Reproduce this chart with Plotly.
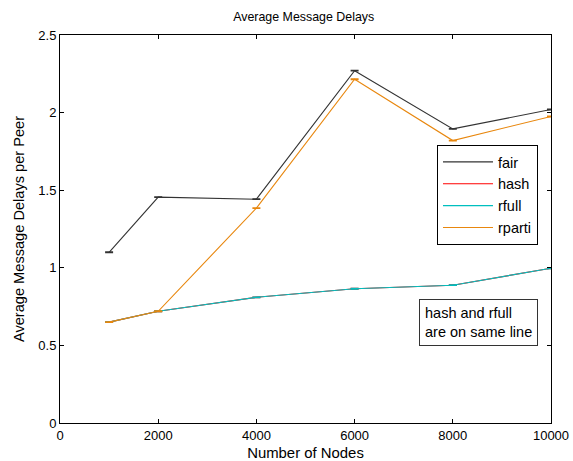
import plotly.graph_objects as go

nodes = [1000, 2000, 4000, 6000, 8000, 10000]
fair = [1.10, 1.455, 1.442, 2.27, 1.895, 2.02]
hash_ = [0.65, 0.72, 0.81, 0.865, 0.888, 0.997]
rfull = [0.65, 0.72, 0.81, 0.865, 0.888, 0.997]
rparti = [0.65, 0.72, 1.385, 2.215, 1.82, 1.975]
err = [0.002, 0.002, 0.002, 0.002, 0.002, 0.002]
x_ticks = [0, 2000, 4000, 6000, 8000, 10000]
x_labels = ["0", "2000", "4000", "6000", "8000", "10000"]
y_ticks = [0, 0.5, 1, 1.5, 2, 2.5]
y_labels = ["0", "0.5", "1", "1.5", "2", "2.5"]

series = [
    ("fair", fair, "#333333"),
    ("hash", hash_, "#ff0000"),
    ("rfull", rfull, "#00bfbf"),
    ("rparti", rparti, "#e8870e"),
]

FAMILY = "Liberation Sans, Arial, sans-serif"

fig = go.Figure()
for name, vals, color in series:
    fig.add_trace(go.Scatter(
        x=nodes, y=vals, name=name, mode="lines",
        line=dict(color=color, width=1.1),
        error_y=dict(type="data", array=err, color=color, thickness=1.2, width=4),
    ))

fig.update_layout(
    width=573, height=461,
    margin=dict(l=60, r=22, t=35, b=38),
    paper_bgcolor="white", plot_bgcolor="white",
    font=dict(family=FAMILY, size=13, color="black"),
    title=dict(text="Average Message Delays", x=0.53, xanchor="center",
               y=1 - 17 / 461, yanchor="middle",
               font=dict(family=FAMILY, size=12.4, color="black")),
    xaxis=dict(range=[0, 10000], tickvals=x_ticks, ticktext=x_labels,
               ticks="inside", ticklen=4, tickcolor="black", showline=True,
               linecolor="black", linewidth=1, mirror="ticks", showgrid=False,
               zeroline=False, automargin=False,
               title=dict(text="Number of Nodes", standoff=6,
                          font=dict(family=FAMILY, size=14.9, color="black"))),
    yaxis=dict(range=[0, 2.5], tickvals=y_ticks, ticktext=y_labels,
               ticks="inside", ticklen=4, tickcolor="black", showline=True,
               linecolor="black", linewidth=1, mirror="ticks", showgrid=False,
               zeroline=False, automargin=False,
               title=dict(text="Average Message Delays per Peer", standoff=10,
                          font=dict(family=FAMILY, size=14.6, color="black"))),
    legend=dict(x=0.9735, xanchor="right", y=0.7165, yanchor="top",
                bordercolor="black", borderwidth=1, bgcolor="white",
                itemwidth=50, font=dict(family=FAMILY, size=14.5, color="black"),
                tracegroupgap=0),
    showlegend=True,
)
fig.add_annotation(
    xref="paper", yref="paper", x=0.9735, y=0.3196, xanchor="right", yanchor="top",
    text="hash and rfull<br>are on same line", align="left", showarrow=False,
    bordercolor="#333333", borderwidth=1, borderpad=5, bgcolor="white",
    font=dict(family=FAMILY, size=14.5, color="black"),
)
fig.write_html("out.html")
